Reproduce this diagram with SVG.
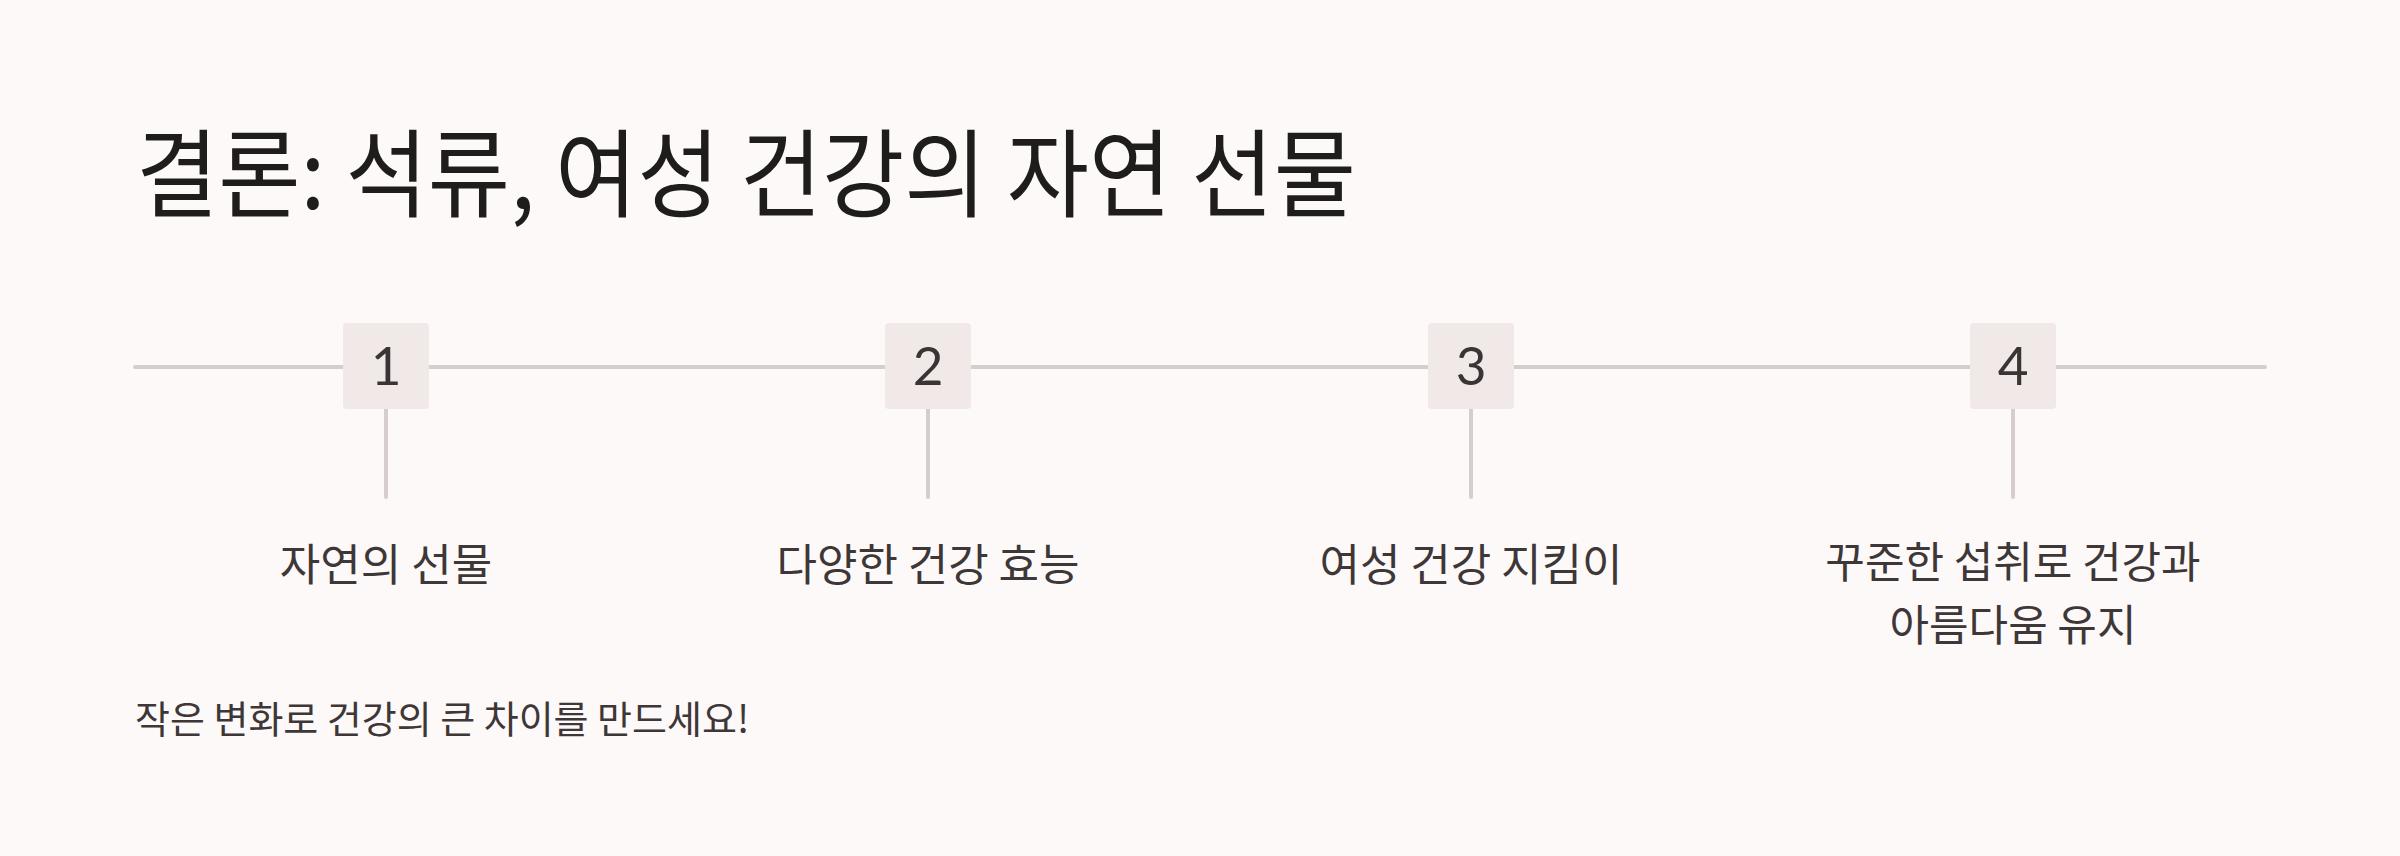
<svg xmlns="http://www.w3.org/2000/svg" width="2400" height="856" viewBox="0 0 2400 856">
<style>
.bg{fill:#fdf9f8}
.line{stroke:#d6cdcd;stroke-width:4;stroke-linecap:round;fill:none}
.box{fill:#f1e8e8}
.num{font-family:Lato,"Liberation Sans",sans-serif;font-size:53px;fill:#3a3434;text-anchor:middle;font-weight:400}
.lbl{font-family:"Noto Sans CJK KR",sans-serif;font-size:44px;fill:#3d3737;text-anchor:middle}
.lbl2{font-size:43px}
.title{font-family:"Noto Sans CJK KR",sans-serif;font-size:96px;fill:#1f1c1c}
.foot{font-family:"Noto Sans CJK KR",sans-serif;font-size:38px;fill:#3d3737}
</style>
<rect class="bg" x="0" y="0" width="2400" height="856"/>
<text class="title" x="136" y="209" textLength="1220" lengthAdjust="spacingAndGlyphs">결론: 석류, 여성 건강의 자연 선물</text>
<g id="connectors">
<line class="line" x1="135" y1="367" x2="2265" y2="367"/>
<line class="line" x1="386" y1="409" x2="386" y2="497"/>
<line class="line" x1="928" y1="409" x2="928" y2="497"/>
<line class="line" x1="1471" y1="409" x2="1471" y2="497"/>
<line class="line" x1="2013" y1="409" x2="2013" y2="497"/>
</g>
<g id="node1">
<rect class="box" x="343" y="323" width="86" height="86" rx="4"/>
<text class="num" x="386" y="385">1</text>
<text class="lbl" x="386" y="581">자연의 선물</text>
</g>
<g id="node2">
<rect class="box" x="885" y="323" width="86" height="86" rx="4"/>
<text class="num" x="928" y="385">2</text>
<text class="lbl" x="928" y="581">다양한 건강 효능</text>
</g>
<g id="node3">
<rect class="box" x="1428" y="323" width="86" height="86" rx="4"/>
<text class="num" x="1471" y="385">3</text>
<text class="lbl" x="1471" y="581">여성 건강 지킴이</text>
</g>
<g id="node4">
<rect class="box" x="1970" y="323" width="86" height="86" rx="4"/>
<text class="num" x="2013" y="385">4</text>
<text class="lbl lbl2" x="2013" y="578">꾸준한 섭취로 건강과</text>
<text class="lbl lbl2" x="2013" y="641">아름다움 유지</text>
</g>
<text class="foot" x="135" y="733">작은 변화로 건강의 큰 차이를 만드세요!</text>
</svg>
